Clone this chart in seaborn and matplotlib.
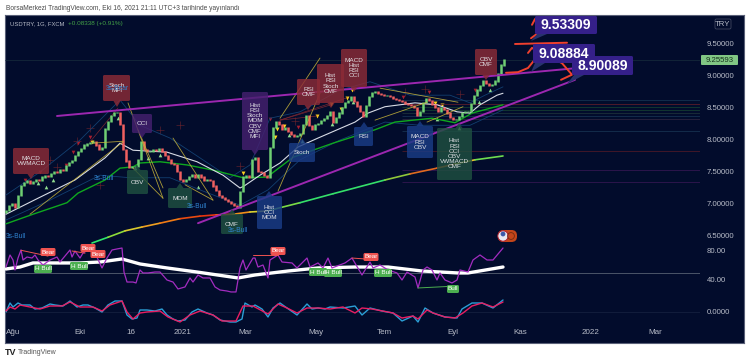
import matplotlib
matplotlib.use("Agg")
import matplotlib.pyplot as plt
from matplotlib.patches import FancyBboxPatch, Polygon, Circle
import numpy as np
import seaborn as sns

# price candles, one sample every 3 time steps
closes = [6.89, 6.97, 7.00, 6.94, 7.125, 7.28, 7.33, 7.36, 7.31, 7.34, 7.375, 7.36, 7.41, 7.44, 7.42, 7.47, 7.50,
          7.48, 7.53, 7.52, 7.59, 7.64, 7.67, 7.75, 7.81, 7.86, 7.91, 7.94, 7.95, 7.97, 7.91, 7.84, 7.875, 8.16,
          8.28, 8.375, 8.42, 8.42, 8.23, 7.84, 7.66, 7.56, 7.58, 7.58, 7.69, 7.97, 7.84, 7.81, 7.81, 7.84, 7.83,
          7.86, 7.81, 7.75, 7.69, 7.625, 7.61, 7.50, 7.375, 7.34, 7.375, 7.42, 7.45, 7.41, 7.45, 7.41, 7.36, 7.375,
          7.36, 7.27, 7.20, 7.125, 7.09, 7.06, 7.03, 7.00, 6.97, 6.94, 7.19, 7.41, 7.44, 7.41, 7.69, 7.72, 7.50,
          7.48, 7.44, 7.41, 7.875, 8.19, 8.28, 8.23, 8.16, 8.19, 8.125, 8.08, 8.05, 8.06, 8.09, 8.23, 8.375, 8.22,
          8.16, 8.23, 8.25, 8.30, 8.33, 8.375, 8.44, 8.27, 8.34, 8.41, 8.50, 8.58, 8.61, 8.66, 8.59, 8.52, 8.44,
          8.36, 8.53, 8.67, 8.73, 8.75, 8.72, 8.70, 8.69, 8.69, 8.67, 8.64, 8.625, 8.61, 8.59, 8.56, 8.55, 8.53,
          8.50, 8.375, 8.44, 8.58, 8.64, 8.61, 8.55, 8.50, 8.44, 8.50, 8.47, 8.41, 8.34, 8.31, 8.31, 8.36, 8.42,
          8.44, 8.44, 8.56, 8.69, 8.77, 8.84, 8.91, 8.875, 8.84, 8.86, 8.91, 9.03, 9.16, 9.25]

white_t = [6, 38, 75, 105, 120, 133, 167, 197, 223, 240, 244, 260, 280, 298, 318, 355, 368, 385, 400, 415, 437, 457, 470, 480, 497, 503]
white_p = [6.84, 7.09, 7.375, 7.72, 7.95, 7.84, 7.81, 7.66, 7.45, 7.25, 7.28, 7.45, 7.64, 7.89, 8.03, 8.28, 8.42, 8.52, 8.55, 8.58, 8.55, 8.44, 8.42, 8.55, 8.70, 8.73]
green_t = [6, 33, 67, 78, 105, 120, 133, 140, 160, 187, 213, 243, 267, 293, 333, 375, 395, 432, 455, 472, 503]
green_p = [6.69, 6.84, 7.02, 7.17, 7.375, 7.56, 7.58, 7.64, 7.66, 7.61, 7.53, 7.41, 7.42, 7.73, 7.95, 8.16, 8.28, 8.34, 8.27, 8.42, 8.55]
long_t = [92, 108, 125, 142, 160, 180, 200, 216, 233, 250, 267, 300, 333, 385, 410, 437, 455, 475, 503]
long_p = [6.39, 6.48, 6.58, 6.64, 6.70, 6.77, 6.81, 6.83, 6.84, 6.875, 6.89, 7.02, 7.16, 7.375, 7.47, 7.56, 7.625, 7.69, 7.75]
long_colors = ["#2ee66b", "#8fdc3a", "#d9c92e", "#f0a020", "#f07a15", "#ea4a10", "#e8340f", "#ef5a10", "#f08f1a",
               "#d8d030", "#7bdc45", "#35e06a", "#35e06a", "#8fc83a", "#e06a20", "#e8581a", "#e8c030", "#6fdc50"]
upper_t = [6, 40, 80, 105, 120, 140, 170, 200, 230, 250, 270, 300, 340, 370, 410, 450, 470, 485, 503]
upper_p = [7.14, 7.50, 8.0, 8.39, 8.625, 8.23, 8.03, 7.72, 7.41, 7.61, 8.34, 8.44, 8.78, 8.91, 8.70, 8.70, 8.58, 8.70, 8.83]
lower_t = [6, 50, 100, 130, 170, 200, 240, 268, 300, 340, 385, 420, 470, 503]
lower_p = [6.75, 7.06, 7.45, 7.41, 7.41, 7.22, 6.98, 7.22, 7.69, 8.0, 8.28, 8.23, 8.23, 8.47]

# drawn trend lines: t0, t1, p0, p1
purple_lines = [(57, 578, 8.375, 9.125), (198, 575, 6.70, 8.94)]
yellow_lines = [(128, 163, 8.58, 7.09), (133, 163, 7.56, 7.09), (173, 213, 8.03, 7.06), (185, 213, 7.30, 7.06),
                (320, 280, 9.28, 8.34), (320, 278, 8.73, 7.20), (123, 30, 7.97, 6.84), (92, 123, 7.95, 7.98),
                (380, 458, 8.81, 8.59), (427, 375, 8.59, 8.31), (427, 463, 8.28, 8.52), (138, 163, 8.16, 7.25)]
fan_lines = [(280, 317, 8.31, 8.375), (280, 331, 8.31, 8.55), (280, 347, 8.31, 8.66), (90, 118, 7.97, 8.50)]
levels = [8.625, 8.555, 8.52, 8.47, 8.42, 8.375, 8.33, 8.14, 7.83, 7.53, 7.34]
level_colors = ["#16314f", "#5a1c2a", "#143c30", "#143c30", "#1c3038", "#16314f", "#2c2440", "#16314f", "#4a1828", "#321650", "#321650"]

# red pen strokes
strokes = [([532, 535, 541, 541, 538, 531], [9.80, 9.89, 9.91, 9.77, 9.67, 9.59]),
           ([515, 567], [9.50, 9.52]),
           ([506, 518, 528, 536, 538, 532, 528], [9.05, 9.06, 9.125, 9.28, 9.375, 9.44, 9.36]),
           ([550, 562, 572, 561], [9.30, 9.20, 9.02, 8.94])]

yellow_sig_t = [92, 243, 277, 284, 275, 317, 331, 347, 352, 341, 435, 442]
yellow_sig_p = [7.97, 7.48, 8.17, 8.22, 8.05, 8.375, 8.56, 8.66, 8.78, 8.48, 8.58, 8.55]
green_sig_t = [118, 53, 46, 38, 160, 148, 135, 198, 289, 302, 332, 353, 479, 490, 459, 437]
green_sig_p = [8.34, 7.375, 7.27, 7.33, 7.77, 7.72, 7.56, 7.27, 8.08, 7.98, 8.25, 8.59, 8.59, 8.78, 8.19, 8.33]
red_sig_t = [90, 78, 73, 66, 40, 25, 270, 298, 403, 429, 475]
red_sig_p = [8.05, 7.95, 7.81, 7.61, 7.50, 7.375, 8.33, 8.20, 8.67, 8.75, 8.78]
cross_t = [77, 90, 57, 50, 160, 180, 295, 405, 425, 460, 100, 240]
cross_p = [7.98, 8.19, 7.58, 7.69, 8.16, 8.23, 8.30, 8.75, 8.80, 8.72, 7.30, 7.60]

rsi_t = [6, 10, 13, 15, 18, 21, 23, 27, 32, 35, 38, 43, 50, 57, 60, 70, 72, 75, 80, 83, 88, 95, 102, 107, 112, 117, 122,
         124, 127, 133, 136, 140, 143, 148, 155, 160, 167, 173, 178, 185, 190, 193, 198, 203, 210, 215, 220, 227, 231,
         236, 240, 243, 246, 253, 255, 258, 263, 268, 270, 278, 282, 292, 297, 307, 310, 318, 323, 328, 332, 345, 352,
         362, 370, 373, 380, 388, 397, 402, 407, 415, 418, 423, 427, 432, 437, 440, 445, 452, 457, 460, 468, 473, 480,
         487, 493, 503]
rsi_v = [57.9, 74.5, 67.6, 53.8, 70.3, 81.4, 67.6, 71.7, 70.3, 74.5, 67.6, 60.7, 67.6, 71.7, 64.8, 81.4, 71.7, 80, 70.3,
         77.2, 81.4, 77.2, 56.6, 70.3, 81.4, 82.8, 84.1, 51, 37.2, 37.2, 35.9, 53.8, 49.7, 49.7, 51, 51, 40, 37.2, 27.6,
         30.4, 42.8, 37.2, 46.9, 42.8, 42.8, 30.4, 26.2, 24.8, 23.5, 23.5, 56.6, 67.6, 53.8, 70.3, 70.3, 57.9, 60.7, 42.8,
         67.6, 74.5, 64.8, 63.5, 56.6, 70.3, 57.9, 63.5, 56.6, 70.3, 56.6, 63.5, 70.3, 46.9, 64.8, 56.6, 60.7, 53.8, 49.7,
         40, 51, 44.1, 29, 53.8, 57.9, 53.8, 40, 49.7, 40, 35.9, 40, 53.8, 51, 67.6, 74.5, 67.6, 67.6, 84.1]
rsi_ma_t = [6, 20, 33, 60, 80, 100, 122, 140, 167, 197, 238, 255, 288, 318, 355, 388, 422, 458, 468, 503]
rsi_ma_v = [55.2, 57.9, 63.5, 63.5, 63.5, 64.8, 69, 62.1, 56.6, 51, 42.8, 46.9, 52.4, 56.6, 57.9, 57.9, 52.4, 49.7, 49.7, 57.9]
div_lines = [(21, 48, 81.0, 73.0, "#ef5350"), (72, 85, 80.0, 77.0, "#ef5350"), (253, 278, 74.0, 74.0, "#ef5350"),
             (352, 365, 70.3, 69.0, "#ef5350"), (418, 447, 29.0, 31.0, "#4caf50")]

k_t = [6, 10, 13, 18, 22, 30, 35, 42, 50, 55, 63, 70, 77, 83, 88, 95, 102, 108, 115, 122, 127, 132, 137, 140, 147, 155,
       162, 167, 173, 178, 185, 192, 198, 207, 213, 220, 230, 236, 242, 245, 252, 255, 262, 268, 273, 280, 287, 297,
       307, 312, 318, 325, 330, 343, 355, 362, 370, 382, 393, 402, 413, 418, 425, 433, 445, 457, 462, 472, 482, 493, 503]
k_v = [0.0, 0.09, 0.05, 0.09, 0.07, 0.07, 0.03, 0.04, 0.08, 0.07, 0.06, 0.11, 0.05, 0.07, 0.07, 0.04, 0.0, 0.07, 0.11,
       0.11, -0.03, -0.07, -0.06, 0.02, 0.02, 0.01, 0.03, -0.03, -0.07, -0.09, -0.08, 0.0, 0.03, -0.01, -0.03, -0.08,
       -0.10, -0.10, -0.07, 0.09, 0.05, 0.07, 0.03, -0.05, 0.04, 0.09, 0.04, -0.03, 0.08, 0.03, 0.04, 0.03, 0.05, 0.04,
       0.06, -0.03, 0.04, 0.01, -0.01, -0.09, -0.04, -0.10, 0.04, -0.01, -0.05, -0.06, 0.03, 0.09, 0.09, 0.04, 0.12]
d_t = [6, 10, 15, 20, 30, 40, 50, 62, 70, 80, 93, 102, 110, 122, 127, 133, 140, 147, 160, 168, 180, 190, 200, 213, 222,
       236, 243, 253, 268, 278, 287, 297, 307, 318, 330, 343, 355, 362, 372, 393, 402, 413, 418, 427, 433, 445, 455,
       463, 472, 482, 493, 503]
d_v = [0.01, 0.05, 0.03, 0.07, 0.05, 0.03, 0.06, 0.06, 0.10, 0.05, 0.05, 0.01, 0.07, 0.11, 0.0, -0.07, -0.01, 0.0, 0.01,
       -0.05, -0.10, -0.03, 0.01, -0.03, -0.09, -0.09, 0.06, 0.06, -0.02, 0.08, 0.04, -0.01, 0.04, 0.04, 0.03, 0.05,
       -0.01, 0.04, 0.03, -0.01, -0.06, -0.04, -0.07, 0.02, -0.01, -0.05, -0.06, -0.01, 0.06, 0.09, 0.05, 0.10]

x_ticks = [13, 80, 131, 183, 245, 316, 384, 453, 520, 591, 655]
x_labels = ["Ağu", "Eki", "16", "2021", "Mar", "May", "Tem", "Eyl", "Kas", "2022", "Mar"]
price_ticks = [7.0, 7.5, 8.0, 8.5, 9.0, 9.5, 6.5]
last_price = 9.25593

# text, box (left, right, top, bottom), tip (x, y), fill
callouts = [("MACD\nVWMACD", (13, 49, 148, 174), (31, 179), "red"),
            ("Stoch\nMFI", (103, 130, 75, 101), (117, 107), "red"),
            ("RSI\nCMF", (297, 320, 79, 105), (308, 110), "red"),
            ("Hist\nRSI\nStoch\nCMF", (317, 344, 64, 103), (331, 108), "red"),
            ("MACD\nHist\nRSI\nCCI", (341, 367, 49, 87), (354, 92), "red"),
            ("OBV\nCMF", (475, 497, 49, 75), (486, 80), "red"),
            ("CCI", (132, 152, 114, 133), (142, 138), "purple"),
            ("Hist\nRSI\nStoch\nMOM\nOBV\nCMF\nMFI", (242, 268, 92, 150), (255, 155), "purple"),
            ("Stoch", (289, 315, 143, 162), (302, 138), "blue"),
            ("RSI", (354, 373, 127, 146), (364, 122), "blue"),
            ("MACD\nRSI\nOBV", (407, 433, 126, 158), (420, 121), "blue"),
            ("Hist\nCCI\nMOM", (257, 282, 196, 229), (269, 191), "blue"),
            ("OBV", (127, 148, 170, 194), (137, 165), "green"),
            ("MOM", (168, 192, 188, 208), (180, 183), "green"),
            ("CMF", (221, 243, 214, 234), (232, 209), "green"),
            ("Hist\nRSI\nCCI\nOBV\nVWMACD\nCMF", (437, 472, 128, 180), (459, 123), "green")]
fills = {"red": "#8c2b36", "purple": "#45206f", "blue": "#1a3c86", "green": "#1f5040"}

sns.set_theme(style="dark")
plt.rcParams['font.family'] = ['Liberation Sans', 'DejaVu Sans']
bg = "#020c2c"
tick_col = "#b8bcc8"

fig = plt.figure(figsize=(7.5, 3.62), dpi=100, facecolor="white")


def pane(top, bottom, ylim):
    ax = fig.add_axes([5 / 750, 1 - bottom / 362, 695 / 750, (bottom - top) / 362])
    ax.set_facecolor("none")
    ax.set_xlim(5, 700)
    ax.set_ylim(*ylim)
    ax.grid(False)
    for s in ax.spines.values():
        s.set_visible(False)
    ax.yaxis.tick_right()
    ax.tick_params(axis="y", length=0, pad=5, labelsize=5.6, labelcolor=tick_col)
    ax.set_xticks([])
    ax.set_xlabel("")
    return ax


def line(ax, t, v, color, lw=0.7, alpha=1.0, ls="-"):
    sns.lineplot(x=t, y=v, ax=ax, color=color, lw=lw, alpha=alpha, ls=ls, sort=False, estimator=None, legend=False)


# dark panel behind everything
back = fig.add_axes([5 / 750, 1 - 343 / 362, 739 / 750, 328 / 362])
back.set_facecolor(bg)
back.set_xticks([])
back.set_yticks([])
for s in back.spines.values():
    s.set_color("#5a6078")
    s.set_linewidth(0.8)

ax_p = pane(15, 245, (6.359, 9.953))
ax_r = pane(245, 295, (19.3, 88.27))
ax_k = pane(295, 328, (-0.16, 0.17))

# price pane
bar_t = 6 + 3 * np.arange(len(closes))
opens = np.r_[closes[0] - 0.03, closes[:-1]]
cols = ["#6fcf73" if c >= o else "#f06060" for o, c in zip(opens, closes)]
ax_p.hlines(last_price, 5, 700, color="#14283a", lw=0.6)
ax_p.hlines(levels, 402, 700, colors=level_colors, lw=0.6)
line(ax_p, upper_t, upper_p, "#123f70", 0.6)
line(ax_p, lower_t, lower_p, "#123f70", 0.6)
for t0, t1, p0, p1 in fan_lines:
    line(ax_p, [t0, t1], [p0, p1], "#7a2630", 0.5)
line(ax_p, green_t, green_p, "#0fa81f", 1.0)
line(ax_p, white_t, white_p, "#d8dce6", 0.8)
for i, c in enumerate(long_colors):
    line(ax_p, long_t[i:i + 2], long_p[i:i + 2], c, 1.2)
ax_p.vlines(bar_t, np.minimum(opens, closes), np.maximum(opens, closes) + 0.02, colors=cols, lw=1.8)
for t0, t1, p0, p1 in yellow_lines:
    line(ax_p, [t0, t1], [p0, p1], "#c9b53a", 0.6, alpha=0.85)
for t0, t1, p0, p1 in purple_lines:
    line(ax_p, [t0, t1], [p0, p1], "#9c27b0", 1.4)
sns.scatterplot(x=cross_t, y=cross_p, ax=ax_p, marker="+", s=28, color="#5a1f2c", linewidth=0.5, legend=False)
sns.scatterplot(x=red_sig_t, y=red_sig_p, ax=ax_p, marker="v", s=7, color="#a81f30", linewidth=0, legend=False)
sns.scatterplot(x=green_sig_t, y=green_sig_p, ax=ax_p, marker="^", s=7, color="#8fdc8f", linewidth=0, legend=False)
sns.scatterplot(x=yellow_sig_t, y=yellow_sig_p, ax=ax_p, marker="v", s=8, color="#ffd21f", linewidth=0, legend=False)
for st, sp in strokes:
    line(ax_p, st, sp, "#f0402e", 1.4)
ax_p.set_yticks(price_ticks)
ax_p.set_yticklabels([f"{p:.5f}" for p in price_ticks])

# rsi pane
ax_r.hlines(50, 5, 700, color="#566072", lw=0.6)
line(ax_r, rsi_ma_t, rsi_ma_v, "#ffffff", 2.4)
line(ax_r, rsi_t, rsi_v, "#a32cc0", 0.9)
for t0, t1, v0, v1, c in div_lines:
    line(ax_r, [t0, t1], [v0, v1], c, 0.7)
ax_r.set_yticks([80, 40])
ax_r.set_yticklabels(["80.00", "40.00"])

# lower oscillator pane
ax_k.hlines(0, 5, 700, color="#14203f", lw=0.6)
line(ax_k, k_t, k_v, "#2b9fd6", 1.0)
line(ax_k, d_t, d_v, "#e91e63", 1.0)
ax_k.set_yticks([0])
ax_k.set_yticklabels(["0.0000"])
ax_k.set_xticks(x_ticks)
ax_k.set_xticklabels(x_labels)
ax_k.tick_params(axis="x", length=0, pad=0.5, labelsize=5.8, labelcolor=tick_col)

# overlay for labels, in figure rows and columns
top = fig.add_axes([0, 0, 1, 1], facecolor="none")
top.set_xlim(0, 750)
top.set_ylim(362, 0)
top.axis("off")


def box(l, r, t, b, color, alpha=1.0, round_=1.5, ec="none", z=3):
    top.add_patch(FancyBboxPatch((l, t), r - l, b - t, boxstyle=f"round,pad=0,rounding_size={round_}",
                                 fc=color, ec=ec, lw=0.5, alpha=alpha, zorder=z))


for text, (l, r, t, b), (tx, ty), kind in callouts:
    box(l, r, t, b, fills[kind], alpha=0.82)
    edge = b if ty > b else t
    top.add_patch(Polygon([(tx - 3.5, edge), (tx + 3.5, edge), (tx, ty)], fc=fills[kind], alpha=0.82, ec="none", zorder=3))
    top.text((l + r) / 2, (t + b) / 2, text, color="#e2e2e6", fontsize=4.6, ha="center", va="center",
             linespacing=1.05, zorder=4)

for tx, ty, s in [(16, 236, "3s-Bull"), (197, 207, "3s-Bull"), (104, 178, "3s-Bull"), (238, 231, "3s-Bull"), (117, 88, "3s-Bear")]:
    top.text(tx, ty, s, color="#2f83d0", fontsize=4.8, ha="center", va="center", zorder=5)

for tx, ty, s in [(48, 252, "Bear"), (88, 248, "Bear"), (98, 254, "Bear"), (278, 251, "Bear"), (371, 257, "Bear")]:
    box(tx - 7.5, tx + 7.5, ty - 4, ty + 4, "#ef5350", z=5)
    top.text(tx, ty, s, color="white", fontsize=4.6, ha="center", va="center", zorder=6)
for tx, ty, s, w in [(43, 269, "H Bull", 9), (79, 266, "H Bull", 9), (318, 272, "H Bull", 9), (333, 273, "H Bull", 9),
                     (383, 273, "H Bull", 9), (453, 289, "Bull", 6)]:
    box(tx - w, tx + w, ty - 4, ty + 4, "#4caf50", z=5)
    top.text(tx, ty, s, color="white", fontsize=4.6, ha="center", va="center", zorder=6)

# big price notes
for l, r, t, b, s, tip in [(535, 597, 16, 34, "9.53309", (531, 41)), (533, 595, 44, 63, "9.08884", (531, 72)),
                           (572, 633, 56, 75, "8.90089", (567, 84))]:
    box(l, r, t, b, "#35208a", z=6)
    top.add_patch(Polygon([(l + 2, b), (l + 12, b), tip], fc="#27326e", ec="none", zorder=5))
    top.text((l + r) / 2, (t + b) / 2, s, color="white", fontsize=10, fontweight="bold", ha="center", va="center", zorder=7)

# last price badge and currency
box(701, 738, 55, 65, "#81c784", round_=1, z=6)
top.text(719.5, 60, f"{last_price:.5f}", color="#16331d", fontsize=5.6, ha="center", va="center", zorder=7)
box(715, 731, 19, 29, bg, ec="#4a5068", round_=1.5, z=6)
top.text(723, 24, "TRY", color=tick_col, fontsize=5.6, ha="center", va="center", zorder=7)

# header and footer text
top.text(6, 9, "BorsaMerkezi TradingView.com, Eki 16, 2021 21:11 UTC+3 tarihinde yayınlandı", color="#4a4a4a",
         fontsize=4.75, ha="left", va="center")
top.text(10, 23.5, "USDTRY, 1G, FXCM", color="#b8bcc8", fontsize=4.2, ha="left", va="center", zorder=7)
top.text(68, 23.5, "+0.08338 (+0.91%)", color="#43a047", fontsize=4.6, ha="left", va="center", zorder=7)
top.text(11, 352.5, "TV", color="#222222", fontsize=6.5, fontweight="bold", ha="center", va="center")
top.text(18, 352.5, "TradingView", color="#555555", fontsize=5, ha="left", va="center")

# event icon
box(498, 517, 230, 242, "#c2451a", round_=5.5, z=6)
top.add_patch(Circle((503, 236), 5.2, fc="#e8e8f0", ec="#b02030", lw=0.7, zorder=7))
top.add_patch(Circle((503, 234), 2.4, fc="#3b5aa8", ec="none", zorder=8))
top.add_patch(Circle((511, 236), 3.4, fc="none", ec="#6e2c10", lw=0.6, zorder=7))

fig.savefig("out.png", dpi=100, facecolor="white")
